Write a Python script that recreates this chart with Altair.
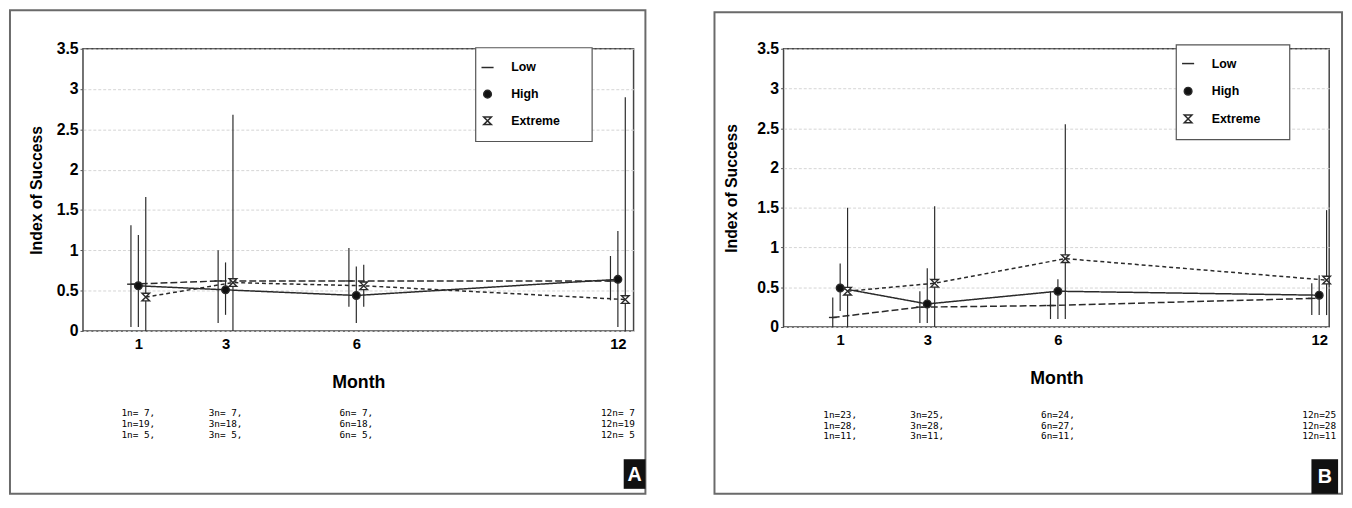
import altair as alt
import pandas as pd

months = [1, 3, 6, 12]
groups = ["Low", "High", "Extreme"]

# ---- Panel A values ----
a_low = [0.58, 0.62, 0.62, 0.62]
a_high = [0.56, 0.51, 0.44, 0.64]
a_ext = [0.42, 0.60, 0.56, 0.39]
a_low_lo = [0.05, 0.10, 0.30, 0.38]
a_low_hi = [1.31, 1.00, 1.03, 0.93]
a_high_lo = [0.05, 0.20, 0.10, 0.05]
a_high_hi = [1.19, 0.85, 0.80, 1.24]
a_ext_lo = [0.00, 0.00, 0.30, 0.00]
a_ext_hi = [1.66, 2.68, 0.82, 2.90]
a_n_low = [7, 7, 7, 7]
a_n_high = [19, 18, 18, 19]
a_n_ext = [5, 5, 5, 5]

# ---- Panel B values ----
b_low = [0.12, 0.25, 0.27, 0.36]
b_high = [0.49, 0.29, 0.45, 0.40]
b_ext = [0.45, 0.55, 0.86, 0.59]
b_low_lo = [0.00, 0.05, 0.10, 0.15]
b_low_hi = [0.37, 0.45, 0.45, 0.55]
b_high_lo = [0.20, 0.05, 0.10, 0.15]
b_high_hi = [0.80, 0.74, 0.60, 0.65]
b_ext_lo = [0.00, 0.00, 0.10, 0.15]
b_ext_hi = [1.50, 1.52, 2.55, 1.47]
b_n_low = [23, 25, 24, 25]
b_n_high = [28, 28, 27, 28]
b_n_ext = [11, 11, 11, 11]

y_ticks = [0, 0.5, 1, 1.5, 2, 2.5, 3, 3.5]

FONT = "Liberation Sans"
INK = "#2a2a2a"
SHAPES = ["stroke", "circle", "M-1,-1L1,-1L-1,1L1,1Z"]
FILLS = ["#ffffff", "#111111", "#ffffff"]
DASHES = [[7, 3], [1, 0], [4, 3]]
LEG_SIZES = [150, 60, 60]


def build_df(vals, los, his):
    rows = []
    for g, v, lo, hi in zip(groups, vals, los, his):
        for m, vv, l, h in zip(months, v, lo, hi):
            rows.append({"month": m, "group": g, "val": vv, "lo": l, "hi": h})
    return pd.DataFrame(rows)


def n_text(nl, nh, ne):
    rows = []
    for i, m in enumerate(months):
        sep = "" if m == 12 else ","
        lines = [f"{m}n={n:>2}{sep}" for n in (nl[i], nh[i], ne[i])]
        rows.append({"month": m, "txt": "\n".join(lines)})
    return pd.DataFrame(rows)


def one():
    return alt.Data(values=[{}])


def legend_layers(lx, ly, lw, lh, first, step, sym_dx, lab_dx):
    out = [alt.Chart(one()).mark_rect(fill="white", stroke="#555", strokeWidth=1.2).encode(
        x=alt.value(lx), x2=alt.value(lx + lw), y=alt.value(ly), y2=alt.value(ly + lh))]
    for i, g in enumerate(groups):
        yy = ly + first + i * step
        out.append(alt.Chart(one()).mark_point(
            shape=SHAPES[i], fill=FILLS[i], stroke=INK, strokeWidth=1.5,
            size=LEG_SIZES[i], opacity=1, filled=False).encode(
            x=alt.value(lx + sym_dx), y=alt.value(yy)))
        out.append(alt.Chart(one()).mark_text(
            text=g, font=FONT, fontSize=12.5, fontWeight="bold", color="black",
            align="left", baseline="middle").encode(
            x=alt.value(lx + lab_dx), y=alt.value(yy)))
    return out


def panel(df, ndf, letter, w, h, xdom, frame, badge, legend, ytitle_pad, month_y):
    xs = alt.Scale(domain=xdom, nice=False, zero=False)
    ys = alt.Scale(domain=[0, 3.5], nice=False, zero=False)
    offs = "datum.group == 'Low' ? -0.17 : (datum.group == 'High' ? 0 : 0.17)"
    base = alt.Chart(df).transform_calculate(xo="datum.month + (" + offs + ")")

    xaxis = alt.Axis(values=months, title="Month", labelFont=FONT, labelFontSize=15,
                     labelFontWeight="bold", labelColor="black", tickSize=0,
                     labelPadding=6, domain=False, grid=False, titleFont=FONT,
                     titleFontSize=18, titleFontWeight="bold", titleColor="black",
                     titlePadding=22)
    yaxis = alt.Axis(values=y_ticks, format="~g", title="Index of Success",
                     labelFont=FONT, labelFontSize=16, labelFontWeight="bold",
                     labelColor="black", tickSize=3, tickColor="#555",
                     labelPadding=2, domain=False, grid=True, gridColor="#d4d4d4",
                     gridDash=[3, 2], titleFont=FONT, titleFontSize=16,
                     titleFontWeight="bold", titleColor="black",
                     titlePadding=ytitle_pad)

    frame_rect = alt.Chart(one()).mark_rect(
        filled=False, stroke="#6a6a6a", strokeWidth=2
    ).encode(x=alt.value(frame[0]), x2=alt.value(frame[1]),
             y=alt.value(frame[2]), y2=alt.value(frame[3]))

    badge_rect = alt.Chart(one()).mark_rect(fill="#111111").encode(
        x=alt.value(badge[0]), x2=alt.value(badge[1]),
        y=alt.value(badge[2]), y2=alt.value(badge[3]))
    badge_txt = alt.Chart(one()).mark_text(
        text=letter, font=FONT, fontSize=20, fontWeight="bold", color="white",
        align="center", baseline="middle"
    ).encode(x=alt.value((badge[0] + badge[1]) / 2),
             y=alt.value((badge[2] + badge[3]) / 2 + 1))

    rules = base.mark_rule(color=INK, strokeWidth=1.2).encode(
        x=alt.X("xo:Q", scale=xs, axis=xaxis),
        y=alt.Y("lo:Q", scale=ys, axis=yaxis),
        y2="hi:Q",
    )
    lines = base.mark_line(color=INK, strokeWidth=1.5).encode(
        x=alt.X("xo:Q", scale=xs),
        y=alt.Y("val:Q", scale=ys),
        detail="group:N",
        strokeDash=alt.StrokeDash("group:N", scale=alt.Scale(
            domain=groups, range=DASHES), legend=None),
        order="month:Q",
    )
    pts = base.mark_point(stroke=INK, strokeWidth=1.4, size=60, opacity=1).encode(
        x=alt.X("xo:Q", scale=xs),
        y=alt.Y("val:Q", scale=ys),
        shape=alt.Shape("group:N", scale=alt.Scale(domain=groups, range=SHAPES),
                        legend=None),
        fill=alt.Fill("group:N", scale=alt.Scale(domain=groups, range=FILLS),
                      legend=None),
    )
    ntxt = alt.Chart(ndf).mark_text(
        font="DejaVu Sans Mono", fontSize=9.5, lineBreak="\n", lineHeight=11,
        align="center", baseline="top", color="black"
    ).encode(x=alt.X("month:Q", scale=xs), y=alt.value(month_y), text="txt:N")

    layers = [frame_rect, rules, lines, pts, ntxt, badge_rect, badge_txt]
    layers += legend_layers(*legend)
    return alt.layer(*layers).properties(width=w, height=h)


dfa = build_df([a_low, a_high, a_ext], [a_low_lo, a_high_lo, a_ext_lo],
               [a_low_hi, a_high_hi, a_ext_hi])
dfb = build_df([b_low, b_high, b_ext], [b_low_lo, b_high_lo, b_ext_lo],
               [b_low_hi, b_high_hi, b_ext_hi])
na = n_text(a_n_low, a_n_high, a_n_ext)
nb = n_text(b_n_low, b_n_high, b_n_ext)

pa = panel(dfa, na, "A", 558, 286, [-0.27, 12.36],
           frame=(-74, 570, -39, 451), badge=(548, 570, 416, 446),
           legend=(398, -1, 118, 95, 20, 27, 12, 36),
           ytitle_pad=12, month_y=364)
pb = panel(dfb, nb, "B", 553, 282, [-0.30, 12.23],
           frame=(-70, 566, -37, 451), badge=(535, 562, 416, 451),
           legend=(398, -4, 115, 96, 19, 28, 12, 36),
           ytitle_pad=17, month_y=366)

chart = alt.hconcat(pa, pb, spacing=66).resolve_scale(
    x="independent", y="independent", shape="independent", fill="independent",
    strokeDash="independent"
).properties(
    padding={"left": 0, "top": -3, "right": 0, "bottom": 0},
    background="white",
).configure_view(stroke="#444", strokeWidth=1.5)

chart.save("out.html", embed_options={"renderer": "svg", "actions": False})
